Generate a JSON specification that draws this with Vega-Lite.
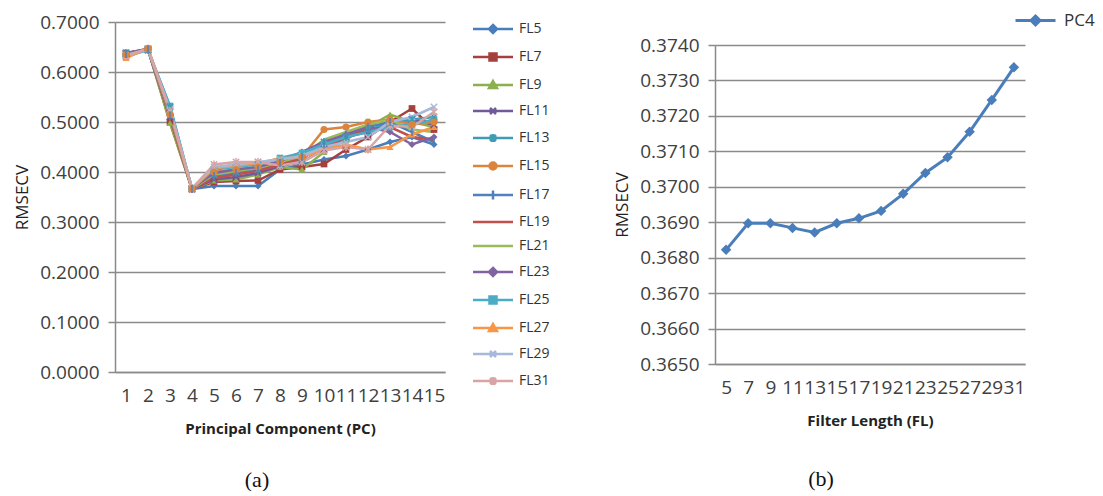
{
  "$schema": "https://vega.github.io/schema/vega-lite/v6.json",
  "padding": {"left": 13, "top": 12, "right": 0, "bottom": 0},
  "background": "white",
  "spacing": 63,
  "resolve": {"scale": {"color": "independent", "x": "independent", "y": "independent"}, "legend": {"color": "independent"}},
  "hconcat": [
    {
      "width": 330,
      "height": 350,
      "title": {"text": "(a)", "orient": "bottom", "font": "Liberation Serif", "fontSize": 22, "fontWeight": "normal", "color": "#111", "dx": -23, "offset": 34},
      "data": {"values": [
        {"pc":1,"s":"FL5","v":0.636},{"pc":2,"s":"FL5","v":0.645},{"pc":3,"s":"FL5","v":0.505},{"pc":4,"s":"FL5","v":0.366},{"pc":5,"s":"FL5","v":0.372},{"pc":6,"s":"FL5","v":0.372},{"pc":7,"s":"FL5","v":0.372},{"pc":8,"s":"FL5","v":0.405},{"pc":9,"s":"FL5","v":0.415},{"pc":10,"s":"FL5","v":0.425},{"pc":11,"s":"FL5","v":0.432},{"pc":12,"s":"FL5","v":0.445},{"pc":13,"s":"FL5","v":0.460},{"pc":14,"s":"FL5","v":0.470},{"pc":15,"s":"FL5","v":0.455},
        {"pc":1,"s":"FL7","v":0.638},{"pc":2,"s":"FL7","v":0.646},{"pc":3,"s":"FL7","v":0.500},{"pc":4,"s":"FL7","v":0.366},{"pc":5,"s":"FL7","v":0.380},{"pc":6,"s":"FL7","v":0.382},{"pc":7,"s":"FL7","v":0.383},{"pc":8,"s":"FL7","v":0.405},{"pc":9,"s":"FL7","v":0.410},{"pc":10,"s":"FL7","v":0.416},{"pc":11,"s":"FL7","v":0.445},{"pc":12,"s":"FL7","v":0.470},{"pc":13,"s":"FL7","v":0.500},{"pc":14,"s":"FL7","v":0.527},{"pc":15,"s":"FL7","v":0.485},
        {"pc":1,"s":"FL9","v":0.637},{"pc":2,"s":"FL9","v":0.645},{"pc":3,"s":"FL9","v":0.498},{"pc":4,"s":"FL9","v":0.366},{"pc":5,"s":"FL9","v":0.383},{"pc":6,"s":"FL9","v":0.385},{"pc":7,"s":"FL9","v":0.395},{"pc":8,"s":"FL9","v":0.410},{"pc":9,"s":"FL9","v":0.405},{"pc":10,"s":"FL9","v":0.440},{"pc":11,"s":"FL9","v":0.465},{"pc":12,"s":"FL9","v":0.490},{"pc":13,"s":"FL9","v":0.515},{"pc":14,"s":"FL9","v":0.500},{"pc":15,"s":"FL9","v":0.490},
        {"pc":1,"s":"FL11","v":0.636},{"pc":2,"s":"FL11","v":0.644},{"pc":3,"s":"FL11","v":0.510},{"pc":4,"s":"FL11","v":0.366},{"pc":5,"s":"FL11","v":0.385},{"pc":6,"s":"FL11","v":0.390},{"pc":7,"s":"FL11","v":0.398},{"pc":8,"s":"FL11","v":0.412},{"pc":9,"s":"FL11","v":0.420},{"pc":10,"s":"FL11","v":0.445},{"pc":11,"s":"FL11","v":0.470},{"pc":12,"s":"FL11","v":0.480},{"pc":13,"s":"FL11","v":0.500},{"pc":14,"s":"FL11","v":0.505},{"pc":15,"s":"FL11","v":0.495},
        {"pc":1,"s":"FL13","v":0.638},{"pc":2,"s":"FL13","v":0.645},{"pc":3,"s":"FL13","v":0.530},{"pc":4,"s":"FL13","v":0.367},{"pc":5,"s":"FL13","v":0.395},{"pc":6,"s":"FL13","v":0.400},{"pc":7,"s":"FL13","v":0.405},{"pc":8,"s":"FL13","v":0.415},{"pc":9,"s":"FL13","v":0.425},{"pc":10,"s":"FL13","v":0.460},{"pc":11,"s":"FL13","v":0.470},{"pc":12,"s":"FL13","v":0.485},{"pc":13,"s":"FL13","v":0.495},{"pc":14,"s":"FL13","v":0.505},{"pc":15,"s":"FL13","v":0.510},
        {"pc":1,"s":"FL15","v":0.635},{"pc":2,"s":"FL15","v":0.647},{"pc":3,"s":"FL15","v":0.515},{"pc":4,"s":"FL15","v":0.366},{"pc":5,"s":"FL15","v":0.400},{"pc":6,"s":"FL15","v":0.405},{"pc":7,"s":"FL15","v":0.410},{"pc":8,"s":"FL15","v":0.420},{"pc":9,"s":"FL15","v":0.430},{"pc":10,"s":"FL15","v":0.485},{"pc":11,"s":"FL15","v":0.490},{"pc":12,"s":"FL15","v":0.500},{"pc":13,"s":"FL15","v":0.505},{"pc":14,"s":"FL15","v":0.495},{"pc":15,"s":"FL15","v":0.500},
        {"pc":1,"s":"FL17","v":0.636},{"pc":2,"s":"FL17","v":0.645},{"pc":3,"s":"FL17","v":0.512},{"pc":4,"s":"FL17","v":0.366},{"pc":5,"s":"FL17","v":0.392},{"pc":6,"s":"FL17","v":0.398},{"pc":7,"s":"FL17","v":0.405},{"pc":8,"s":"FL17","v":0.418},{"pc":9,"s":"FL17","v":0.430},{"pc":10,"s":"FL17","v":0.455},{"pc":11,"s":"FL17","v":0.475},{"pc":12,"s":"FL17","v":0.490},{"pc":13,"s":"FL17","v":0.500},{"pc":14,"s":"FL17","v":0.480},{"pc":15,"s":"FL17","v":0.460},
        {"pc":1,"s":"FL19","v":0.637},{"pc":2,"s":"FL19","v":0.646},{"pc":3,"s":"FL19","v":0.508},{"pc":4,"s":"FL19","v":0.366},{"pc":5,"s":"FL19","v":0.388},{"pc":6,"s":"FL19","v":0.395},{"pc":7,"s":"FL19","v":0.402},{"pc":8,"s":"FL19","v":0.415},{"pc":9,"s":"FL19","v":0.428},{"pc":10,"s":"FL19","v":0.450},{"pc":11,"s":"FL19","v":0.470},{"pc":12,"s":"FL19","v":0.485},{"pc":13,"s":"FL19","v":0.490},{"pc":14,"s":"FL19","v":0.470},{"pc":15,"s":"FL19","v":0.465},
        {"pc":1,"s":"FL21","v":0.636},{"pc":2,"s":"FL21","v":0.645},{"pc":3,"s":"FL21","v":0.514},{"pc":4,"s":"FL21","v":0.366},{"pc":5,"s":"FL21","v":0.395},{"pc":6,"s":"FL21","v":0.402},{"pc":7,"s":"FL21","v":0.408},{"pc":8,"s":"FL21","v":0.420},{"pc":9,"s":"FL21","v":0.432},{"pc":10,"s":"FL21","v":0.465},{"pc":11,"s":"FL21","v":0.480},{"pc":12,"s":"FL21","v":0.495},{"pc":13,"s":"FL21","v":0.505},{"pc":14,"s":"FL21","v":0.485},{"pc":15,"s":"FL21","v":0.480},
        {"pc":1,"s":"FL23","v":0.637},{"pc":2,"s":"FL23","v":0.646},{"pc":3,"s":"FL23","v":0.516},{"pc":4,"s":"FL23","v":0.367},{"pc":5,"s":"FL23","v":0.398},{"pc":6,"s":"FL23","v":0.405},{"pc":7,"s":"FL23","v":0.410},{"pc":8,"s":"FL23","v":0.422},{"pc":9,"s":"FL23","v":0.440},{"pc":10,"s":"FL23","v":0.460},{"pc":11,"s":"FL23","v":0.475},{"pc":12,"s":"FL23","v":0.490},{"pc":13,"s":"FL23","v":0.480},{"pc":14,"s":"FL23","v":0.455},{"pc":15,"s":"FL23","v":0.470},
        {"pc":1,"s":"FL25","v":0.631},{"pc":2,"s":"FL25","v":0.644},{"pc":3,"s":"FL25","v":0.532},{"pc":4,"s":"FL25","v":0.367},{"pc":5,"s":"FL25","v":0.405},{"pc":6,"s":"FL25","v":0.410},{"pc":7,"s":"FL25","v":0.415},{"pc":8,"s":"FL25","v":0.428},{"pc":9,"s":"FL25","v":0.438},{"pc":10,"s":"FL25","v":0.455},{"pc":11,"s":"FL25","v":0.470},{"pc":12,"s":"FL25","v":0.480},{"pc":13,"s":"FL25","v":0.490},{"pc":14,"s":"FL25","v":0.495},{"pc":15,"s":"FL25","v":0.505},
        {"pc":1,"s":"FL27","v":0.628},{"pc":2,"s":"FL27","v":0.648},{"pc":3,"s":"FL27","v":0.520},{"pc":4,"s":"FL27","v":0.366},{"pc":5,"s":"FL27","v":0.408},{"pc":6,"s":"FL27","v":0.412},{"pc":7,"s":"FL27","v":0.418},{"pc":8,"s":"FL27","v":0.427},{"pc":9,"s":"FL27","v":0.430},{"pc":10,"s":"FL27","v":0.445},{"pc":11,"s":"FL27","v":0.455},{"pc":12,"s":"FL27","v":0.445},{"pc":13,"s":"FL27","v":0.450},{"pc":14,"s":"FL27","v":0.475},{"pc":15,"s":"FL27","v":0.490},
        {"pc":1,"s":"FL29","v":0.634},{"pc":2,"s":"FL29","v":0.645},{"pc":3,"s":"FL29","v":0.525},{"pc":4,"s":"FL29","v":0.368},{"pc":5,"s":"FL29","v":0.410},{"pc":6,"s":"FL29","v":0.415},{"pc":7,"s":"FL29","v":0.420},{"pc":8,"s":"FL29","v":0.425},{"pc":9,"s":"FL29","v":0.432},{"pc":10,"s":"FL29","v":0.450},{"pc":11,"s":"FL29","v":0.460},{"pc":12,"s":"FL29","v":0.470},{"pc":13,"s":"FL29","v":0.500},{"pc":14,"s":"FL29","v":0.510},{"pc":15,"s":"FL29","v":0.530},
        {"pc":1,"s":"FL31","v":0.632},{"pc":2,"s":"FL31","v":0.647},{"pc":3,"s":"FL31","v":0.522},{"pc":4,"s":"FL31","v":0.367},{"pc":5,"s":"FL31","v":0.415},{"pc":6,"s":"FL31","v":0.420},{"pc":7,"s":"FL31","v":0.420},{"pc":8,"s":"FL31","v":0.413},{"pc":9,"s":"FL31","v":0.420},{"pc":10,"s":"FL31","v":0.443},{"pc":11,"s":"FL31","v":0.450},{"pc":12,"s":"FL31","v":0.445},{"pc":13,"s":"FL31","v":0.493},{"pc":14,"s":"FL31","v":0.490},{"pc":15,"s":"FL31","v":0.520}
      ]},
      "encoding": {
        "x": {"field": "pc", "type": "ordinal", "title": "Principal Component (PC)"},
        "y": {"field": "v", "type": "quantitative", "title": "RMSECV", "scale": {"domain": [0, 0.7], "nice": false}, "axis": {"values": [0, 0.1, 0.2, 0.3, 0.4, 0.5, 0.6, 0.7], "format": ".4f"}},
        "color": {
          "field": "s", "type": "nominal",
          "scale": {"domain": ["FL5","FL7","FL9","FL11","FL13","FL15","FL17","FL19","FL21","FL23","FL25","FL27","FL29","FL31"],
                    "range": ["#4A7DBB","#A5403D","#8DB04E","#72599A","#3E9DB5","#DB843D","#4F81BD","#C0504D","#9BBB59","#8064A2","#4BACC6","#F79646","#A7B9DB","#D9A5A4"]},
          "legend": {
            "title": null, "orient": "none", "legendX": 371, "legendY": 0, "padding": 0,
            "labelFont": "Open Sans", "labelFontSize": 14, "labelColor": "#333", "labelOffset": 19, "rowPadding": 10, "symbolSize": 100,
            "encode": {"symbols": {"update": {
              "shape": {"signal": "['M-4,0H4M0,-0.8L0.8,0L0,0.8L-0.8,0Z','M-4,0H4M-0.7,-0.7H0.7V0.7H-0.7Z','M-4,0H4M0,-0.8L0.8,0.6H-0.8Z','M-4,0H4M-0.6,-0.6L0.6,0.6M-0.6,0.6L0.6,-0.6','M-4,0H4M-0.6,-0.6L0.6,0.6M-0.6,0.6L0.6,-0.6M0,-0.8V0.8','M-4,0H4M0.7,0A0.7,0.7,0,1,1,-0.7,0A0.7,0.7,0,1,1,0.7,0Z','M-4,0H4M0,-0.9V0.9','M-4,0H4','M-4,0H4','M-4,0H4M0,-0.8L0.8,0L0,0.8L-0.8,0Z','M-4,0H4M-0.7,-0.7H0.7V0.7H-0.7Z','M-4,0H4M0,-0.8L0.8,0.6H-0.8Z','M-4,0H4M-0.6,-0.6L0.6,0.6M-0.6,0.6L0.6,-0.6','M-4,0H4M-0.6,-0.6L0.6,0.6M-0.6,0.6L0.6,-0.6M0,-0.8V0.8'][indexof(['FL5','FL7','FL9','FL11','FL13','FL15','FL17','FL19','FL21','FL23','FL25','FL27','FL29','FL31'], datum.value)]"},
              "fill": {"signal": "['#4A7DBB','#A5403D','#8DB04E','#72599A','#3E9DB5','#DB843D','#4F81BD','#C0504D','#9BBB59','#8064A2','#4BACC6','#F79646','#A7B9DB','#D9A5A4'][indexof(['FL5','FL7','FL9','FL11','FL13','FL15','FL17','FL19','FL21','FL23','FL25','FL27','FL29','FL31'], datum.value)]"},
              "stroke": {"signal": "['#4A7DBB','#A5403D','#8DB04E','#72599A','#3E9DB5','#DB843D','#4F81BD','#C0504D','#9BBB59','#8064A2','#4BACC6','#F79646','#A7B9DB','#D9A5A4'][indexof(['FL5','FL7','FL9','FL11','FL13','FL15','FL17','FL19','FL21','FL23','FL25','FL27','FL29','FL31'], datum.value)]"},
              "strokeWidth": {"value": 2.5},
              "size": {"value": 100},
              "opacity": {"value": 1}
            }}}
          }
        }
      },
      "layer": [
        {"mark": {"type": "line", "strokeWidth": 2.5}},
        {"transform": [{"filter": {"field": "s", "oneOf": ["FL5", "FL23"]}}],
         "mark": {"type": "point", "shape": "diamond", "filled": true, "size": 50, "opacity": 1}},
        {"transform": [{"filter": {"field": "s", "oneOf": ["FL7", "FL25"]}}],
         "mark": {"type": "point", "shape": "square", "filled": true, "size": 45, "opacity": 1}},
        {"transform": [{"filter": {"field": "s", "oneOf": ["FL9", "FL27"]}}],
         "mark": {"type": "point", "shape": "triangle-up", "filled": true, "size": 50, "opacity": 1}},
        {"transform": [{"filter": {"field": "s", "oneOf": ["FL11", "FL29"]}}],
         "mark": {"type": "point", "shape": "M-1,-1L1,1M-1,1L1,-1", "filled": false, "size": 40, "opacity": 1, "strokeWidth": 1.5}},
        {"transform": [{"filter": {"field": "s", "oneOf": ["FL13", "FL31"]}}],
         "mark": {"type": "point", "shape": "M-1,-1L1,1M-1,1L1,-1M0,-1.3V1.3", "filled": false, "size": 40, "opacity": 1, "strokeWidth": 1.5}},
        {"transform": [{"filter": {"field": "s", "equal": "FL15"}}],
         "mark": {"type": "point", "shape": "circle", "filled": true, "size": 50, "opacity": 1}},
        {"transform": [{"filter": {"field": "s", "equal": "FL17"}}],
         "mark": {"type": "point", "shape": "M0,-1.3V1.3", "filled": false, "size": 40, "opacity": 1, "strokeWidth": 1.5}}
      ]
    },
    {
      "width": 310,
      "height": 342,
      "title": {"text": "(b)", "orient": "bottom", "font": "Liberation Serif", "fontSize": 22, "fontWeight": "normal", "color": "#111", "dx": -49, "offset": 41},
      "data": {"values": [
        {"fl":5,"s":"PC4","v":0.36822},{"fl":7,"s":"PC4","v":0.36897},{"fl":9,"s":"PC4","v":0.36897},{"fl":11,"s":"PC4","v":0.36884},{"fl":13,"s":"PC4","v":0.36871},{"fl":15,"s":"PC4","v":0.36897},{"fl":17,"s":"PC4","v":0.36911},{"fl":19,"s":"PC4","v":0.36932},{"fl":21,"s":"PC4","v":0.36980},{"fl":23,"s":"PC4","v":0.37039},{"fl":25,"s":"PC4","v":0.37083},{"fl":27,"s":"PC4","v":0.37155},{"fl":29,"s":"PC4","v":0.37245},{"fl":31,"s":"PC4","v":0.37337}
      ]},
      "encoding": {
        "x": {"field": "fl", "type": "ordinal", "title": "Filter Length (FL)"},
        "y": {"field": "v", "type": "quantitative", "title": "RMSECV", "scale": {"domain": [0.365, 0.374], "nice": false, "zero": false, "range": [342, 23]}, "axis": {"values": [0.365, 0.366, 0.367, 0.368, 0.369, 0.37, 0.371, 0.372, 0.373, 0.374], "format": ".4f"}},
        "color": {"field": "s", "type": "nominal", "scale": {"range": ["#4A7EBB"]},
          "legend": {
            "title": null, "orient": "none", "legendX": 312, "legendY": -10, "padding": 0,
            "labelFont": "Open Sans", "labelFontSize": 17, "labelColor": "#333", "labelOffset": 20, "symbolSize": 100,
            "encode": {"symbols": {"update": {
              "shape": {"value": "M-4,0H4M0,-0.9L0.9,0L0,0.9L-0.9,0Z"},
              "fill": {"value": "#4A7EBB"}, "stroke": {"value": "#4A7EBB"}, "strokeWidth": {"value": 3}, "size": {"value": 100}, "opacity": {"value": 1}
            }}}
          }
        }
      },
      "layer": [
        {"mark": {"type": "line", "strokeWidth": 3}},
        {"mark": {"type": "point", "filled": true, "shape": "diamond", "size": 110, "opacity": 1}}
      ]
    }
  ],
  "config": {
    "view": {"stroke": null},
    "font": "Open Sans",
    "axis": {"labelFont": "Open Sans", "labelFontSize": 19, "labelColor": "#404040", "titleFont": "Open Sans", "titleColor": "#222", "domainColor": "#8a8a8a", "domainWidth": 1.5, "gridColor": "#8a8a8a", "gridWidth": 1.5, "tickColor": "#8a8a8a", "tickWidth": 1.5},
    "axisX": {"ticks": false, "grid": false, "labelPadding": 14, "labelAngle": 0, "labelOverlap": false, "titleFontSize": 15, "titleFontWeight": "bold", "titlePadding": 16},
    "axisY": {"tickSize": 7, "labelPadding": 9, "titleFontSize": 17, "titleFontWeight": "normal", "titlePadding": 8}
  }
}
